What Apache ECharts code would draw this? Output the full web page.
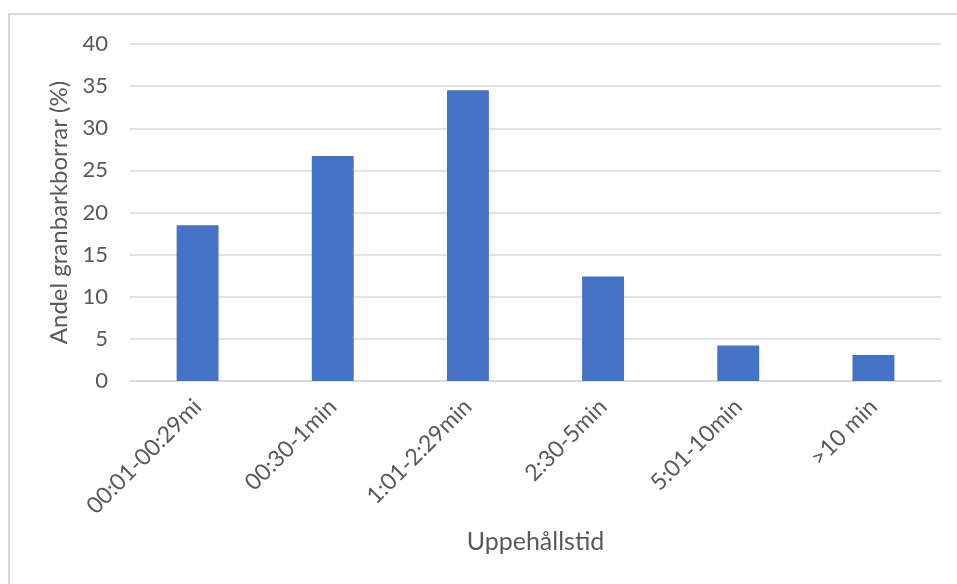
<!DOCTYPE html>
<html>
<head>
<meta charset="utf-8">
<script src="https://cdn.jsdelivr.net/npm/echarts@6/dist/echarts.min.js"></script>
<style>
    body { margin: 0; background: #fff; }
    #chart1 { position: absolute; left: 0; top: 0; width: 957px; height: 584px; }
    #ram { position: absolute; left: 8px; top: 13px; right: 0; bottom: 0;
           border-left: 2px solid #d9d9d9; border-top: 2px solid #d9d9d9; pointer-events: none; }
</style>
</head>
<body>
<div id="chart1"></div>
<div id="ram"></div>
<script>
    // kategorier (uppehållstid) och andel i procent
    var kategorier = ['00:01-00:29mi', '00:30-1min', '1:01-2:29min', '2:30-5min', '5:01-10min', '>10 min'];
    var andel = [18.5, 26.7, 34.5, 12.4, 4.2, 3.1];

    var textFarg = '#595959';
    var font = 'Lato';

    var chart = echarts.init(document.getElementById('chart1'));

    var option = {
        animation: false,
        grid: {
            left: 130,
            right: 16,
            top: 44,
            bottom: 203
        },
        xAxis: {
            type: 'category',
            data: kategorier,
            name: 'Uppehållstid',
            nameLocation: 'middle',
            nameGap: 148,
            nameTextStyle: { color: textFarg, fontSize: 25, fontFamily: font },
            axisLine: { lineStyle: { color: '#d9d9d9', width: 1.5 } },
            axisTick: { show: false },
            axisLabel: {
                rotate: 45,
                interval: 0,
                margin: 22,
                color: textFarg,
                fontSize: 23,
                fontFamily: font
            }
        },
        yAxis: {
            type: 'value',
            min: 0,
            max: 40,
            interval: 5,
            name: 'Andel granbarkborrar (%)',
            nameLocation: 'middle',
            nameGap: 56,
            nameTextStyle: { color: textFarg, fontSize: 24, fontFamily: font },
            axisLine: { show: false },
            axisTick: { show: false },
            axisLabel: {
                margin: 22,
                color: textFarg,
                fontSize: 22,
                fontFamily: font
            },
            splitLine: { lineStyle: { color: '#d9d9d9', width: 1.5 } }
        },
        series: [{
            type: 'bar',
            data: andel,
            barWidth: '31%',
            itemStyle: { color: '#4472c4' }
        }]
    };

    chart.setOption(option, true);
</script>
</body>
</html>
